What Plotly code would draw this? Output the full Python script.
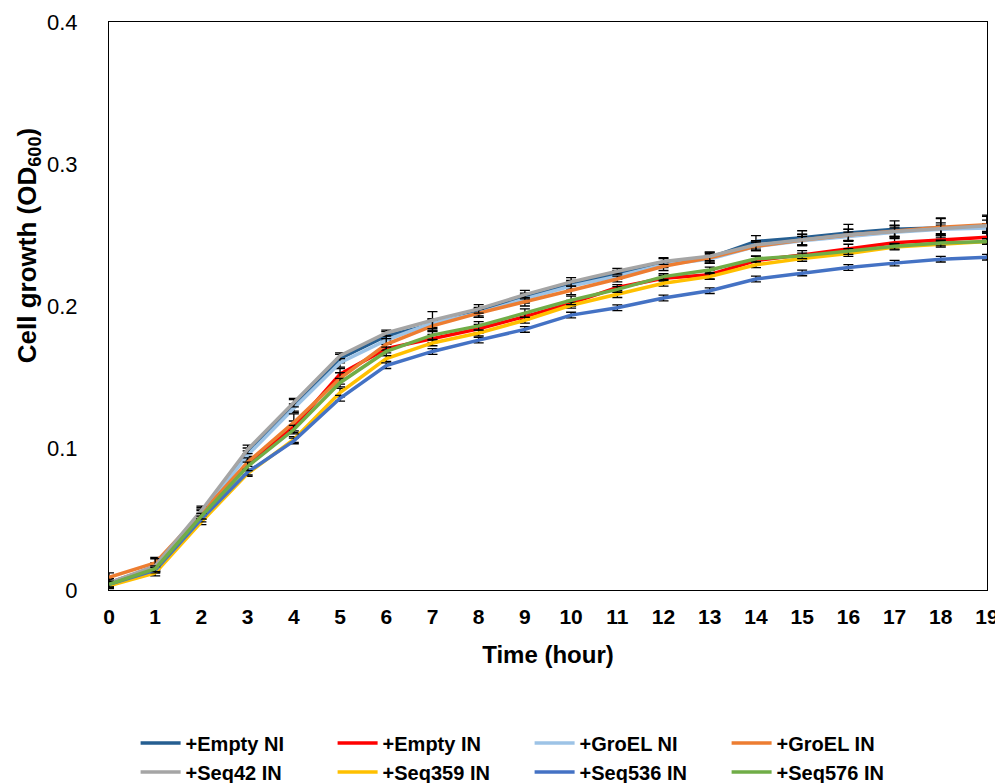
import plotly.graph_objects as go

hours = list(range(20))
tick_labels = [str(h) for h in hours]

series_names = ["+Empty NI", "+Empty IN", "+GroEL NI", "+GroEL IN",
                "+Seq42 IN", "+Seq359 IN", "+Seq536 IN", "+Seq576 IN"]
colors = ["#255E91", "#FF0000", "#9DC3E6", "#ED7D31",
          "#A5A5A5", "#FFC000", "#4472C4", "#70AD47"]

empty_ni = [0.005, 0.016, 0.055, 0.097, 0.130, 0.163, 0.179, 0.187, 0.196, 0.206,
            0.215, 0.223, 0.231, 0.234, 0.2455, 0.248, 0.2515, 0.254, 0.255, 0.256]
empty_in = [0.005, 0.015, 0.052, 0.088, 0.115, 0.152, 0.170, 0.177, 0.184, 0.1925,
            0.202, 0.213, 0.2195, 0.222, 0.232, 0.236, 0.2405, 0.2445, 0.2465, 0.2485]
groel_ni = [0.005, 0.016, 0.054, 0.095, 0.128, 0.160, 0.176, 0.188, 0.195, 0.205,
            0.214, 0.221, 0.229, 0.233, 0.242, 0.246, 0.249, 0.252, 0.254, 0.255]
groel_in = [0.009, 0.019, 0.054, 0.090, 0.118, 0.149, 0.173, 0.186, 0.195, 0.203,
            0.211, 0.219, 0.228, 0.234, 0.242, 0.2465, 0.250, 0.253, 0.2555, 0.2572]
seq42_in = [0.005, 0.017, 0.056, 0.099, 0.132, 0.165, 0.181, 0.190, 0.198, 0.208,
            0.217, 0.2245, 0.2313, 0.235, 0.2431, 0.2466, 0.2502, 0.2525, 0.2545, 0.2565]
seq359_in = [0.003, 0.012, 0.048, 0.082, 0.106, 0.139, 0.163, 0.174, 0.181, 0.190,
             0.2005, 0.208, 0.216, 0.2207, 0.229, 0.2335, 0.237, 0.2415, 0.2435, 0.2455]
seq536_in = [0.004, 0.014, 0.050, 0.083, 0.105, 0.135, 0.158, 0.168, 0.176, 0.1835,
             0.1936, 0.1988, 0.2056, 0.2108, 0.219, 0.2233, 0.2271, 0.2302, 0.233, 0.2344]
seq576_in = [0.004, 0.015, 0.052, 0.087, 0.113, 0.146, 0.168, 0.1795, 0.186, 0.195,
             0.204, 0.2117, 0.2207, 0.2254, 0.2332, 0.2353, 0.2384, 0.242, 0.2443, 0.2455]

err_empty_ni = [0.003, 0.003, 0.003, 0.003, 0.004, 0.003, 0.003, 0.004, 0.003, 0.003,
                0.003, 0.002, 0.003, 0.004, 0.004, 0.005, 0.006, 0.006, 0.007, 0.008]
err_empty_in = [0.002, 0.002, 0.002, 0.003, 0.004, 0.004, 0.003, 0.003, 0.003, 0.002,
                0.002, 0.002, 0.002, 0.003, 0.003, 0.003, 0.003, 0.003, 0.003, 0.003]
err_groel_ni = [0.002, 0.002, 0.002, 0.003, 0.003, 0.003, 0.003, 0.003, 0.003, 0.003,
                0.003, 0.002, 0.002, 0.003, 0.003, 0.003, 0.003, 0.003, 0.003, 0.003]
err_groel_in = [0.003, 0.004, 0.003, 0.003, 0.006, 0.004, 0.004, 0.004, 0.003, 0.003,
                0.003, 0.002, 0.003, 0.003, 0.003, 0.004, 0.004, 0.004, 0.006, 0.006]
err_seq42_in = [0.002, 0.005, 0.003, 0.003, 0.003, 0.002, 0.002, 0.006, 0.003, 0.003,
                0.003, 0.002, 0.002, 0.003, 0.003, 0.004, 0.004, 0.004, 0.004, 0.004]
err_seq359_in = [0.002, 0.002, 0.002, 0.002, 0.002, 0.003, 0.002, 0.002, 0.002, 0.002,
                 0.002, 0.002, 0.002, 0.002, 0.002, 0.002, 0.002, 0.002, 0.002, 0.002]
err_seq536_in = [0.002, 0.002, 0.002, 0.002, 0.002, 0.002, 0.002, 0.002, 0.002, 0.002,
                 0.002, 0.002, 0.002, 0.002, 0.002, 0.002, 0.002, 0.002, 0.002, 0.002]
err_seq576_in = [0.002, 0.002, 0.002, 0.003, 0.003, 0.003, 0.003, 0.003, 0.003, 0.003,
                 0.003, 0.002, 0.002, 0.002, 0.002, 0.002, 0.002, 0.002, 0.002, 0.002]

values = [empty_ni, empty_in, groel_ni, groel_in, seq42_in, seq359_in, seq536_in, seq576_in]
errors = [err_empty_ni, err_empty_in, err_groel_ni, err_groel_in,
          err_seq42_in, err_seq359_in, err_seq536_in, err_seq576_in]

FONT = "Arial, Liberation Sans, sans-serif"

fig = go.Figure()
for name, col, v, e in zip(series_names, colors, values, errors):
    fig.add_trace(go.Scatter(
        x=hours, y=v, name=name, mode="lines",
        line=dict(color=col, width=3.5),
        error_y=dict(type="data", array=e, visible=True, color="black",
                     thickness=1.3, width=5),
    ))

# page body has an 8px margin, so the figure is sized/offset to compensate
fig.update_layout(
    width=995, height=775,
    margin=dict(l=101, r=16, t=14, b=193, autoexpand=False),
    paper_bgcolor="white", plot_bgcolor="white",
    font=dict(family=FONT, color="black"),
    showlegend=True,
    legend=dict(orientation="h", x=0.0303, xanchor="left", y=-0.235, yanchor="top",
                entrywidth=142, entrywidthmode="pixels",
                font=dict(size=20, family=FONT, weight="bold"),
                itemwidth=40, traceorder="normal"),
    annotations=[dict(
        text="<b>Cell growth (OD<sub>600</sub>)</b>", textangle=-90,
        xref="paper", yref="paper", x=-0.0923, y=0.607,
        xanchor="center", yanchor="middle", showarrow=False,
        font=dict(size=26, family=FONT, color="black"),
    )],
)
fig.update_xaxes(
    range=[0, 19], tickvals=hours, ticktext=tick_labels, automargin=False,
    showline=True, linecolor="black", linewidth=1, mirror=True,
    showgrid=False, zeroline=False, ticks="", ticklabeloverflow="allow",
    tickfont=dict(size=21, weight="bold", family=FONT), ticklabelstandoff=8,
    title=dict(text="<b>Time (hour)</b>", font=dict(size=24, family=FONT), standoff=18),
)
fig.update_yaxes(
    range=[0, 0.4], tickvals=[0, 0.1, 0.2, 0.3, 0.4],
    ticktext=["0", "0.1", "0.2", "0.3", "0.4"], automargin=False,
    showline=True, linecolor="black", linewidth=1, mirror=True,
    showgrid=False, zeroline=False, ticks="",
    tickfont=dict(size=22, family=FONT), ticklabelstandoff=26,
)

fig.write_html("out.html")
